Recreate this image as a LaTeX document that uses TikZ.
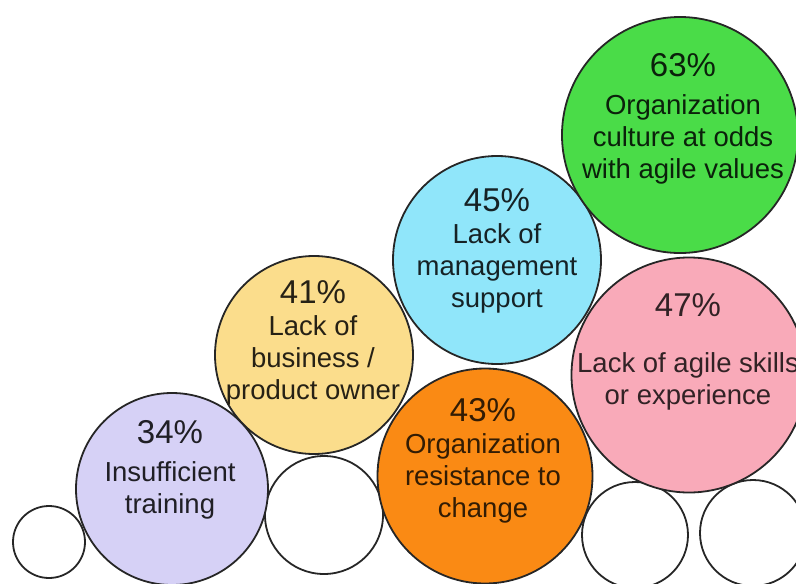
\documentclass[tikz,border=0pt]{standalone}
\usepackage{fontspec}
\setmainfont{Liberation Sans}
\usepackage{tikz}
\usetikzlibrary{shapes, positioning}
\definecolor{lavender}{HTML}{D6D1F6}
\definecolor{sand}{HTML}{FBDD8C}
\definecolor{sky}{HTML}{90E6FA}
\definecolor{tangerine}{HTML}{FA8A14}
\definecolor{lime}{HTML}{4ADC48}
\definecolor{rose}{HTML}{F9AAB9}
\newcommand{\pct}[1]{{\fontsize{33}{32}\selectfont #1\%}}

\begin{document}
\begin{tikzpicture}[x=1pt, y=-1pt,
    bubble/.style={draw=black!85, line width=1.8pt, circle, inner sep=0pt},
    blurb/.style={align=center, inner sep=0pt, anchor=north, font=\fontsize{27.5}{32}\selectfont}]
    \useasboundingbox (0,0) rectangle (796,584);

    % empty circles along the bottom
    \node[bubble, fill=white, minimum size=72pt] (blank1) at (49,542) {};
    \node[bubble, fill=white, minimum size=118pt] (blank2) at (324,515) {};
    \node[bubble, fill=white, minimum size=106pt] (blank3) at (635,535) {};
    \node[bubble, fill=white, minimum size=106pt] (blank4) at (753,533) {};

    % survey bubbles
    \node[bubble, fill=lavender, minimum size=192pt] (training) at (172,489) {};
    \node[blurb, text=lavender!15!black] (trainingtxt) at (170,420) {
        \pct{34}\\[6pt]
        Insufficient\\
        training
    };

    \node[bubble, fill=sand, minimum size=198pt] (owner) at (314,355) {};
    \node[blurb, text=sand!15!black] (ownertxt) at (313,280) {
        \pct{41}\\
        Lack of\\
        business /\\
        product owner
    };

    \node[bubble, fill=sky, minimum size=208pt] (mgmt) at (497,260) {};
    \node[blurb, text=sky!15!black] (mgmttxt) at (497,188) {
        \pct{45}\\
        Lack of\\
        management\\
        support
    };

    \node[bubble, fill=lime, minimum size=236pt] (culture) at (680,135) {};
    \node[blurb, text=lime!15!black] (culturetxt) at (683,53) {
        \pct{63}\\[6pt]
        Organization\\
        culture at odds\\
        with agile values
    };

    \node[bubble, fill=rose, minimum size=235pt] (skills) at (689,375) {};
    \node[blurb, text=rose!20!black] (skillstxt) at (688,293) {
        \pct{47}\\[24pt]
        Lack of agile skills\\
        or experience
    };

    \node[bubble, fill=tangerine, minimum size=215pt] (change) at (485,476) {};
    \node[blurb, text=tangerine!20!black] (changetxt) at (483,398) {
        \pct{43}\\
        Organization\\
        resistance to\\
        change
    };
\end{tikzpicture}
\end{document}
